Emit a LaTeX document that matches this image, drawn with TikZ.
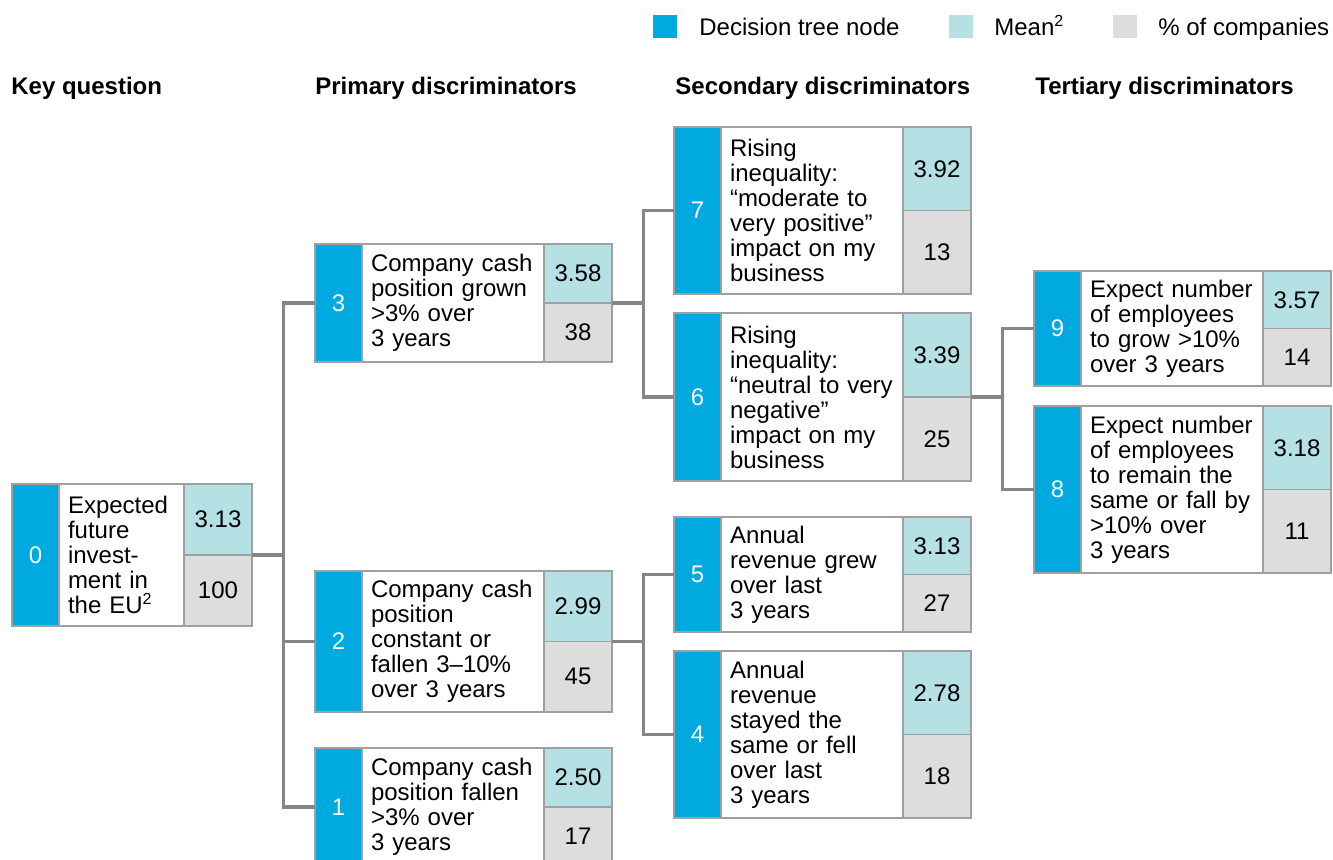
\documentclass[tikz,border=0pt]{standalone}
\usepackage{fontspec}
\setmainfont{Liberation Sans}
\definecolor{treeblue}{HTML}{00A9E0}
\definecolor{meanfill}{HTML}{B5E1E5}
\definecolor{sharefill}{HTML}{DDDDDD}
\definecolor{cellline}{HTML}{A0A0A0}
\definecolor{linkgray}{HTML}{868686}

\begin{document}
\begin{tikzpicture}[x=0.5pt,y=-0.5pt,line join=miter,
  txt/.style={font=\fontsize{12}{12.5}\selectfont},
  cell/.style={txt,draw=cellline,line width=0.75pt,anchor=north west,inner sep=0pt,outer sep=0pt},
  numcell/.style={cell,fill=treeblue,text=white,minimum width=23.5pt},
  textcell/.style={cell,fill=white,align=left,inner xsep=4.5pt},
  meancell/.style={cell,fill=meanfill,minimum width=34pt},
  sharecell/.style={cell,fill=sharefill,minimum width=34pt},
  head/.style={font=\fontsize{12}{12.5}\selectfont\bfseries,anchor=base west,inner sep=0pt},
  key/.style={minimum width=12pt,minimum height=11.5pt,inner sep=0pt},
  keytext/.style={txt,anchor=base west,inner sep=0pt},
  link/.style={draw=linkgray,line width=1.6pt}]
\useasboundingbox (0,0) rectangle (1333,859);

% legend
\node[key,fill=treeblue] (k1) at (665,26.5) {};
\node[keytext] (k1t) at (699,35) {Decision tree node};
\node[key,fill=meanfill] (k2) at (960.5,26.5) {};
\node[keytext] (k2t) at (994,35) {Mean\textsuperscript{2}};
\node[key,fill=sharefill] (k3) at (1124.5,26.5) {};
\node[keytext] (k3t) at (1158,35) {\% of companies};

% column titles
\node[head] (h0) at (11,94) {Key question};
\node[head] (h1) at (315,94) {Primary discriminators};
\node[head] (h2) at (675,94) {Secondary discriminators};
\node[head] (h3) at (1035,94) {Tertiary discriminators};

% tree nodes: number, text, mean, share
\foreach \i/\x/\y/\h/\tw/\lines/\mn/\pc in {
  0/12/484/142/53.5pt/{Expected\\future\\invest-\\ment in\\the EU\textsuperscript{2}}/3.13/100,
  3/315/244/118/82pt/{Company cash\\position grown\\>3\% over\\3 years}/3.58/38,
  2/315/571/141/82pt/{Company cash\\position\\constant or\\fallen 3--10\%\\over 3 years}/2.99/45,
  1/315/748/118/82pt/{Company cash\\position fallen\\>3\% over\\3 years}/2.50/17,
  7/674/127/167/82pt/{Rising\\inequality:\\``moderate to\\very positive''\\impact on my\\business}/3.92/13,
  6/674/313/168/82pt/{Rising\\inequality:\\``neutral to very\\negative''\\impact on my\\business}/3.39/25,
  5/674/517/115/82pt/{Annual\\revenue grew\\over last\\3 years}/3.13/27,
  4/674/651/167/82pt/{Annual\\revenue\\stayed the\\same or fell\\over last\\3 years}/2.78/18,
  9/1034/271/115/82pt/{Expect number\\of employees\\to grow >10\%\\over 3 years}/3.57/14,
  8/1034/406/167/82pt/{Expect number\\of employees\\to remain the\\same or fall by\\>10\% over\\3 years}/3.18/11}
{
  \node[numcell,minimum height=\h*0.5pt] (b\i) at (\x,\y) {\i};
  \node[textcell,text width=\tw,minimum height=\h*0.5pt] (t\i) at (b\i.north east) {\lines};
  \node[meancell,minimum height=\h*0.25pt] (m\i) at (t\i.north east) {\mn};
  \node[sharecell,minimum height=\h*0.25pt] (p\i) at (m\i.south west) {\pc};
}

% branches
\foreach \a/\b in {0/3,0/2,0/1,3/7,3/6,2/5,2/4,6/9,6/8}
  \draw[link] (m\a.south east) -- ++(31.5,0) |- (b\b.west);
\end{tikzpicture}
\end{document}
